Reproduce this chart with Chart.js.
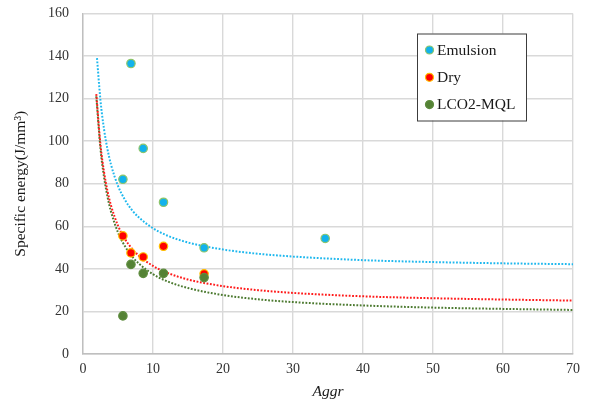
<!DOCTYPE html>
<html><head><meta charset="utf-8">
<script src="https://cdn.jsdelivr.net/npm/chart.js@4"></script>
<style>html,body{margin:0;padding:0;background:#fff}</style>
</head><body>
<canvas id="c" width="590" height="406"></canvas>
<script>
// ---- data ----
const seriesNames = ['Emulsion', 'Dry', 'LCO2-MQL'];
const xTitle = 'Aggr';
const yTitle = 'Specific energy(J/mm³)';

const emulsionX = [5.7, 6.85, 8.6, 11.5, 17.3, 34.6];
const emulsionY = [82.1, 136.5, 96.6, 71.3, 49.9, 54.3];
const dryX = [5.7, 6.85, 8.6, 11.5, 17.3];
const dryY = [55.5, 47.5, 45.6, 50.6, 37.7];
const lco2X = [5.7, 6.85, 8.6, 11.5, 17.3];
const lco2Y = [17.9, 42.1, 37.9, 37.9, 35.9];

// dotted trendlines
const emulsionTrendX = [2.0, 2.5, 3, 3.5, 4, 5, 6, 7, 8, 10, 12, 15, 20, 25, 30, 40, 50, 60, 70];
const emulsionTrendY = [139.0, 119.0, 105.7, 96.2, 89.0, 79.0, 72.4, 67.6, 64.1, 59.1, 55.7, 52.4, 49.1, 47.1, 45.8, 44.1, 43.2, 42.6, 42.2];
const dryTrendX = [1.9, 2.5, 3, 3.5, 4, 5, 6, 7, 8, 10, 12, 15, 20, 25, 30, 40, 50, 60, 70];
const dryTrendY = [122.1, 98.2, 85.6, 76.5, 69.8, 60.3, 54.0, 49.5, 46.1, 41.4, 38.2, 35.0, 31.9, 30.0, 28.7, 27.1, 26.2, 25.6, 25.1];
const lco2TrendX = [1.9, 2.5, 3, 3.5, 4, 5, 6, 7, 8, 10, 12, 15, 20, 25, 30, 40, 50, 60, 70];
const lco2TrendY = [121.1, 96.3, 83.2, 73.9, 66.9, 57.1, 50.6, 45.9, 42.4, 37.5, 34.2, 31.0, 27.7, 25.7, 24.4, 22.8, 21.8, 21.2, 20.7];

const xMin = 0, xMax = 70, xStep = 10;
const yMin = 0, yMax = 160, yStep = 20;

// ---- build ----
const pts = (xs, ys) => xs.map((x, i) => ({x: x, y: ys[i]}));
const SERIF = '"Liberation Serif", "Times New Roman", serif';

const styles = [
  {bg: '#12B2EC', border: '#8DC56A', line: '#1FB8EE'},
  {bg: '#FF0000', border: '#FFC000', line: '#FF1A1A'},
  {bg: '#548235', border: '#5E8C3E', line: '#4C7A30'}
];

function scatterSet(i, xs, ys, order) {
  return {
    type: 'scatter', label: seriesNames[i], data: pts(xs, ys), order: order,
    backgroundColor: styles[i].bg, borderColor: styles[i].border,
    pointRadius: 4.2, pointBorderWidth: 1.2, showLine: false
  };
}
function trendSet(i, xs, ys) {
  return {
    type: 'line', label: seriesNames[i] + ' trend', data: pts(xs, ys), order: 10 + i,
    borderColor: styles[i].line, borderWidth: 2, borderDash: [1.8, 1.6],
    pointRadius: 0, fill: false, cubicInterpolationMode: 'monotone', showLine: true
  };
}

const boxLegend = {
  id: 'boxLegend',
  afterDatasetsDraw(chart) {
    const ctx = chart.ctx;
    const bx = 417, by = 33.5, bw = 109, bh = 87;
    ctx.save();
    ctx.fillStyle = '#ffffff';
    ctx.fillRect(bx, by, bw, bh);
    ctx.strokeStyle = '#3c3c3c';
    ctx.lineWidth = 1;
    ctx.strokeRect(bx + 0.5, by + 0.5, bw, bh);
    ctx.font = '15.5px ' + SERIF;
    ctx.textBaseline = 'middle';
    ctx.textAlign = 'left';
    for (let i = 0; i < 3; i++) {
      const ds = chart.data.datasets[i];
      const cy = 50 + i * 27.3;
      ctx.beginPath();
      ctx.arc(429.5, cy, 4, 0, Math.PI * 2);
      ctx.fillStyle = ds.backgroundColor;
      ctx.fill();
      ctx.lineWidth = 1.2;
      ctx.strokeStyle = ds.borderColor;
      ctx.stroke();
      ctx.fillStyle = '#1a1a1a';
      ctx.fillText(ds.label, 437, cy + 0.5);
    }
    ctx.restore();
  }
};

new Chart(document.getElementById('c'), {
  type: 'scatter',
  data: {
    datasets: [
      scatterSet(0, emulsionX, emulsionY, 3),
      scatterSet(1, dryX, dryY, 2),
      scatterSet(2, lco2X, lco2Y, 1),
      trendSet(0, emulsionTrendX, emulsionTrendY),
      trendSet(1, dryTrendX, dryTrendY),
      trendSet(2, lco2TrendX, lco2TrendY)
    ]
  },
  options: {
    responsive: false,
    animation: false,
    devicePixelRatio: 1,
    layout: {padding: {top: 13.5, right: 17, left: 0, bottom: 0}},
    plugins: {legend: {display: false}, tooltip: {enabled: false}},
    scales: {
      x: {
        type: 'linear', min: xMin, max: xMax,
        ticks: {stepSize: xStep, color: '#333', font: {family: SERIF, size: 14}, padding: 7, maxRotation: 0},
        grid: {color: '#D9D9D9', lineWidth: 1.4, drawTicks: false},
        border: {display: true, color: '#BFBFBF', width: 1.4},
        title: {display: true, text: xTitle, color: '#1a1a1a', font: {family: SERIF, size: 15.5, style: 'italic'}, padding: {top: 0, bottom: 5}},
        afterFit: s => { s.height = 52; s.paddingLeft = 0; s.paddingRight = 0; }
      },
      y: {
        type: 'linear', min: yMin, max: yMax,
        ticks: {stepSize: yStep, color: '#333', font: {family: SERIF, size: 14}, padding: 14},
        grid: {color: '#D9D9D9', lineWidth: 1.4, drawTicks: false},
        border: {display: true, color: '#BFBFBF', width: 1.4},
        title: {display: true, text: yTitle, color: '#1a1a1a', font: {family: SERIF, size: 15.5}, padding: {top: 12, bottom: 0}},
        afterFit: s => { s.width = 83; s.paddingTop = 0; s.paddingBottom = 0; }
      }
    }
  },
  plugins: [boxLegend]
});
</script>
</body></html>
